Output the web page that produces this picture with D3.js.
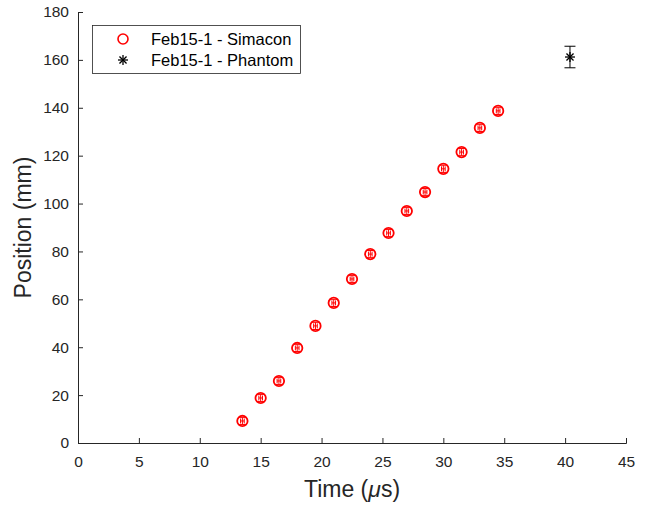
<!DOCTYPE html>
<html><head><meta charset="utf-8">
<script src="https://cdn.jsdelivr.net/npm/d3@7"></script>
<style>body{margin:0;background:#fff}svg{display:block}</style>
</head><body>
<script>
const simTime = [13.5,15,16.5,18,19.5,21,22.5,24,25.5,27,28.5,30,31.5,33,34.5];
const simPos  = [9.2,18.8,25.9,39.7,48.9,58.5,68.5,78.9,87.7,96.9,104.8,114.5,121.5,131.6,138.7];
const simErrY = [1.5,1.5,1.5,1.5,1.5,1.5,1.5,1.5,1.5,1.5,1.5,1.5,1.5,1.5,1.5];
const simErrX = [0.15,0.15,0.15,0.15,0.15,0.15,0.15,0.15,0.15,0.15,0.15,0.15,0.15,0.15,0.15];
const phTime = [40.4];
const phPos = [161.2];
const phErr = [4.5];
const xTicks = [0,5,10,15,20,25,30,35,40,45];
const yTicks = [0,20,40,60,80,100,120,140,160,180];
const legendLabels = ["Feb15-1 - Simacon","Feb15-1 - Phantom"];

const W=646,H=506;
const m={l:78,r:20,t:12,b:63};
const svg=d3.select("body").append("svg").attr("width",W).attr("height",H)
  .style("font-family","'Liberation Sans', Arial, sans-serif");
const x=d3.scaleLinear().domain([0,45]).range([m.l,W-m.r]);
const y=d3.scaleLinear().domain([0,180]).range([H-m.b,m.t]);
const axCol="#262626";

const xa=svg.append("g").attr("transform",`translate(0,${y(0)})`)
  .call(d3.axisBottom(x).tickValues(xTicks).tickSize(-5).tickPadding(13).tickFormat(d3.format("d")));
const ya=svg.append("g").attr("transform",`translate(${x(0)},0)`)
  .call(d3.axisLeft(y).tickValues(yTicks).tickSize(-5).tickPadding(9).tickFormat(d3.format("d")));
[xa,ya].forEach(a=>{
  a.select(".domain").attr("stroke",axCol).attr("stroke-width",1);
  a.selectAll(".tick line").attr("stroke",axCol);
  a.selectAll(".tick text").attr("fill",axCol).style("font-size","15.5px").style("font-family","'Liberation Sans', Arial, sans-serif");
});

svg.append("text").attr("x",(x(0)+x(45))/2).attr("y",497).attr("text-anchor","middle")
  .attr("fill",axCol).style("font-size","23px")
  .html('Time (<tspan font-style="italic">μ</tspan>s)');
svg.append("text").attr("transform",`translate(31,${(y(0)+y(180))/2}) rotate(-90)`)
  .attr("text-anchor","middle").attr("fill",axCol).style("font-size","23px").text("Position (mm)");

const red="#ff0000";
const g=svg.append("g");
simTime.forEach((t,i)=>{
  const cx=x(t),cy=y(simPos[i]);
  const y1=y(simPos[i]-simErrY[i]),y2=y(simPos[i]+simErrY[i]);
  const x1=x(t-simErrX[i]),x2=x(t+simErrX[i]);
  g.append("line").attr("x1",cx).attr("x2",cx).attr("y1",y1).attr("y2",y2).attr("stroke",red).attr("stroke-width",1);
  [y1,y2].forEach(yy=>g.append("line").attr("x1",cx-3.5).attr("x2",cx+3.5).attr("y1",yy).attr("y2",yy).attr("stroke",red).attr("stroke-width",1));
  g.append("line").attr("x1",x1).attr("x2",x2).attr("y1",cy).attr("y2",cy).attr("stroke",red).attr("stroke-width",1);
  [x1,x2].forEach(xx=>g.append("line").attr("x1",xx).attr("x2",xx).attr("y1",cy-2.5).attr("y2",cy+2.5).attr("stroke",red).attr("stroke-width",1));
  g.append("circle").attr("cx",cx).attr("cy",cy).attr("r",5.2).attr("fill","none").attr("stroke",red).attr("stroke-width",1.8);
});

function star(sel,cx,cy,r){
  for(let k=0;k<4;k++){
    const a=k*Math.PI/4;
    sel.append("line").attr("x1",cx-r*Math.cos(a)).attr("y1",cy-r*Math.sin(a))
      .attr("x2",cx+r*Math.cos(a)).attr("y2",cy+r*Math.sin(a)).attr("stroke","#000").attr("stroke-width",1.3);
  }
}
phTime.forEach((t,i)=>{
  const cx=x(t),cy=y(phPos[i]);
  const y1=y(phPos[i]-phErr[i]),y2=y(phPos[i]+phErr[i]);
  g.append("line").attr("x1",cx).attr("x2",cx).attr("y1",y1).attr("y2",y2).attr("stroke","#000").attr("stroke-width",1);
  [y1,y2].forEach(yy=>g.append("line").attr("x1",cx-5.5).attr("x2",cx+5.5).attr("y1",yy).attr("y2",yy).attr("stroke","#000").attr("stroke-width",1));
  star(g,cx,cy,5);
});

const lg=svg.append("g");
lg.append("rect").attr("x",92.5).attr("y",25.5).attr("width",208).attr("height",48)
  .attr("fill","#fff").attr("stroke","#262626").attr("stroke-width",0.8);
lg.append("circle").attr("cx",123).attr("cy",39).attr("r",5).attr("fill","none").attr("stroke",red).attr("stroke-width",1.6);
star(lg,123,60,5);
legendLabels.forEach((s,i)=>{
  lg.append("text").attr("x",151).attr("y",39+i*21).attr("dy","0.36em").attr("fill","#000")
    .style("font-size","16.5px").text(s);
});
</script>
</body></html>
